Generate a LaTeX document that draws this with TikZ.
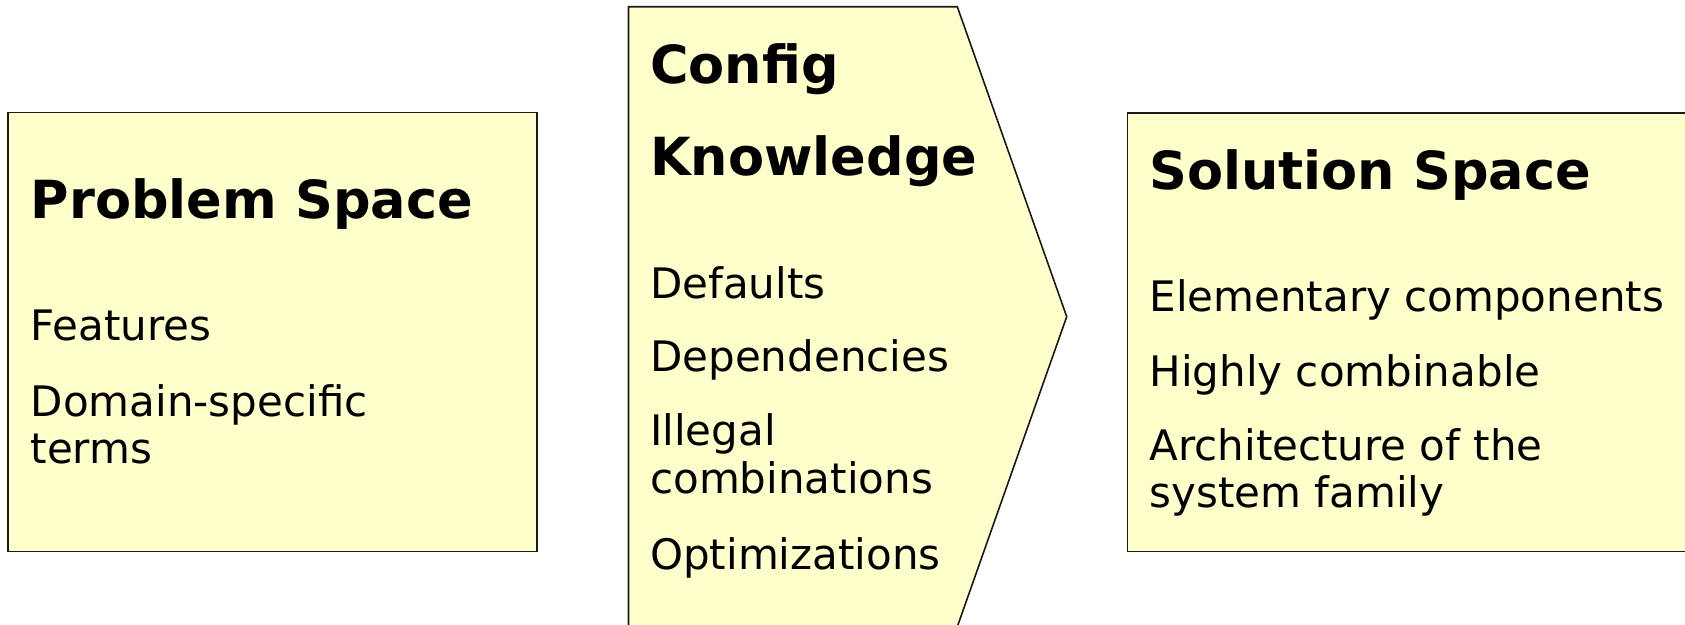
\documentclass[tikz,border=0pt]{standalone}
\usepackage{fontspec}
\setmainfont{DejaVu Sans}
\begin{document}
\begin{tikzpicture}[x=1pt,y=-1pt,
  panel/.style={draw=black!90, line width=1.6pt, fill=noteyellow},
  heading/.style={anchor=base west, inner sep=0pt, font=\fontsize{52.5}{60}\selectfont\bfseries},
  item/.style={anchor=base west, inner sep=0pt, font=\fontsize{42}{48}\selectfont}]
\definecolor{noteyellow}{HTML}{FFFFCC}
\useasboundingbox (0,0) rectangle (1685,624);
\clip (0,0) rectangle (1685,624);

% problem space panel
\draw[panel] (8,112.5) rectangle (537,551.5);
\node[heading] (ps)  at (30.5,218.5) {Problem Space};
\node[item]    (ps1) at (30.5,340.5) {Features};
\node[item]    (ps2) at (30.5,416)   {Domain-specific};
\node[item]    (ps3) at (30.5,463.3) {terms};

% configuration knowledge arrow
\draw[panel] (628.5,6.7) -- (957.3,6.7) -- (1066.7,316.7) -- (957.3,626.7) -- (628.5,626.7) -- cycle;
\node[heading] (ck)  at (650,83.3)  {Config};
\node[heading] (ck0) at (650,175.7) {Knowledge};
\node[item]    (ck1) at (650,298.3) {Defaults};
\node[item]    (ck2) at (650,371)   {Dependencies};
\node[item]    (ck3) at (650,445)   {Illegal};
\node[item]    (ck4) at (650,493.5) {combinations};
\node[item]    (ck5) at (650,569)   {Optimizations};

% solution space panel
\draw[panel] (1127.5,113) rectangle (1700,551.5);
\node[heading] (ss)  at (1149.3,189.3) {Solution Space};
\node[item]    (ss1) at (1149.3,311.7) {Elementary components};
\node[item]    (ss2) at (1149.3,386)   {Highly combinable};
\node[item]    (ss3) at (1149.3,460)   {Architecture of the};
\node[item]    (ss4) at (1149.3,507.3) {system family};
\end{tikzpicture}
\end{document}
